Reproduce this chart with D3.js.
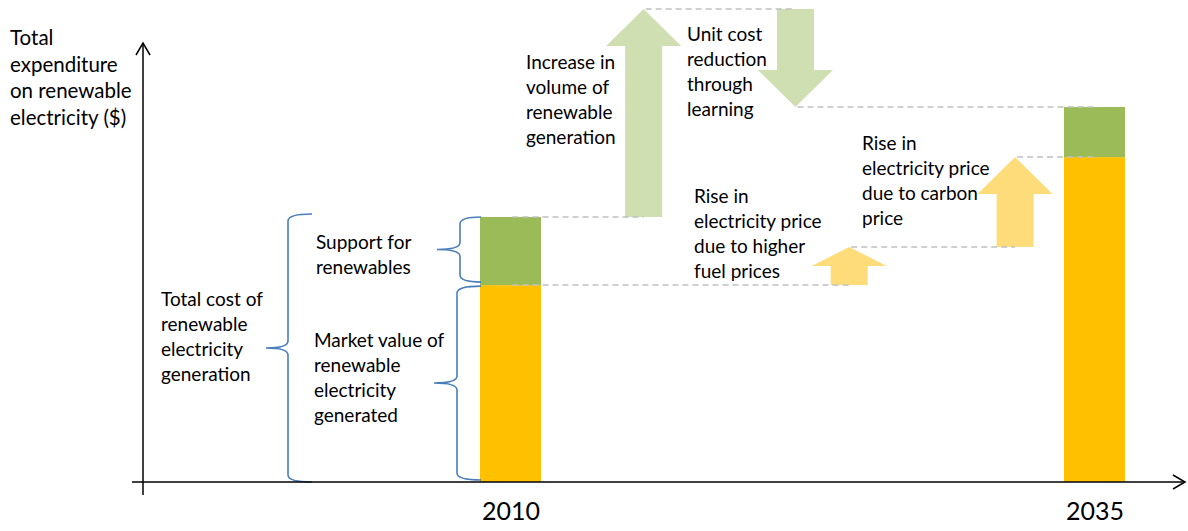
<!DOCTYPE html>
<html>
<head>
<meta charset="utf-8">
<script src="https://cdn.jsdelivr.net/npm/d3@7"></script>
<style>
  body { margin: 0; background: #fff; }
  text { font-family: Lato, "Open Sans", sans-serif; fill: #000; }
</style>
</head>
<body>
<div id="chart"></div>
<script>
// data (index, 2010 total cost = 100)
const years = [2010, 2035];
const marketValue = [74.3, 122.6];
const supportValue = [25.7, 18.9];

// waterfall steps between the two years
const stepYear = [2015.7, 2022.2, 2024.5, 2031.6];
const stepFrom = [100, 178.5, 74.3, 88.7];
const stepTo = [178.5, 141.5, 88.7, 122.6];
const stepKind = ["support", "support", "market", "market"];

// dashed connectors: [from year, to year, level]
const connectors = [
  [2010, 2015.7, 100],
  [2010, 2024.5, 74.3],
  [2015.7, 2022.2, 178.5],
  [2022.2, 2035, 141.5],
  [2024.5, 2031.6, 88.7],
  [2031.6, 2035, 122.6]
];

const yTitle = ["Total", "expenditure", "on renewable", "electricity ($)"];
const notes = [
  ["Increase in", "volume of", "renewable", "generation"],
  ["Unit cost", "reduction", "through", "learning"],
  ["Rise in", "electricity price", "due to higher", "fuel prices"],
  ["Rise in", "electricity price", "due to carbon", "price"],
  ["Support for", "renewables"],
  ["Market value of", "renewable", "electricity", "generated"],
  ["Total cost of", "renewable", "electricity", "generation"]
];
const notePos = [[526, 61], [687, 33], [694, 195], [862, 142], [316, 241], [314, 339], [161, 298]];

const width = 1188, height = 531;
const colors = {market: "#FFC000", support: "#9BBB59"};
const arrowColors = {market: "#FFDC7A", support: "#D0DFB2"};

const svg = d3.select("#chart").append("svg")
    .attr("width", width)
    .attr("height", height);

const x = d3.scaleLinear().domain([2010, 2035]).range([510.5, 1094.5]);
const y = d3.scaleLinear().domain([0, 100]).range([482, 217]);
const barW = 61;

// bars
const bars = years.map((yr, i) => ({yr, market: marketValue[i], support: supportValue[i]}));
svg.selectAll(".market").data(bars).join("rect")
    .attr("class", "market")
    .attr("x", d => x(d.yr) - barW / 2)
    .attr("width", barW)
    .attr("y", d => y(d.market))
    .attr("height", d => y(0) - y(d.market))
    .attr("fill", colors.market);
svg.selectAll(".support").data(bars).join("rect")
    .attr("class", "support")
    .attr("x", d => x(d.yr) - barW / 2)
    .attr("width", barW)
    .attr("y", d => y(d.market + d.support))
    .attr("height", d => y(d.market) - y(d.market + d.support))
    .attr("fill", colors.support);

// block arrows
function arrowPoints(xc, y0, y1) {
  const sw = 37, hw = 75;
  const head = Math.min(37, Math.abs(y1 - y0) / 2);
  const hb = y1 + (y0 > y1 ? head : -head);
  return [[xc - sw / 2, y0], [xc - sw / 2, hb], [xc - hw / 2, hb], [xc, y1],
          [xc + hw / 2, hb], [xc + sw / 2, hb], [xc + sw / 2, y0]];
}
const steps = stepYear.map((s, i) => ({s, from: stepFrom[i], to: stepTo[i], kind: stepKind[i]}));
svg.selectAll(".step").data(steps).join("polygon")
    .attr("class", "step")
    .attr("points", d => arrowPoints(x(d.s), y(d.from), y(d.to)).join(" "))
    .attr("fill", d => arrowColors[d.kind]);

// dashed connectors
svg.selectAll(".conn").data(connectors).join("line")
    .attr("class", "conn")
    .attr("x1", d => x(d[0]) + 2)
    .attr("x2", d => x(d[1]))
    .attr("y1", d => y(d[2]))
    .attr("y2", d => y(d[2]))
    .attr("stroke", "#C0C0C0")
    .attr("stroke-width", 1.5)
    .attr("stroke-dasharray", "6,4");

// braces
function brace(xs, top, bot, tipX, midX) {
  const mid = (top + bot) / 2, r = 7;
  return `M${tipX},${top} Q${xs},${top} ${xs},${top + r} L${xs},${mid - r} Q${xs},${mid} ${midX},${mid}` +
         ` Q${xs},${mid} ${xs},${mid + r} L${xs},${bot - r} Q${xs},${bot} ${tipX},${bot}`;
}
const braceData = [
  [288, y(100) - 3, y(0), 312, 266],
  [460, y(100), y(marketValue[0]) - 3, 481, 437],
  [457, y(marketValue[0]) + 1, y(0) - 2, 481, 434]
];
svg.selectAll(".brace").data(braceData).join("path")
    .attr("class", "brace")
    .attr("d", d => brace(...d))
    .attr("fill", "none")
    .attr("stroke", "#4A7EBB")
    .attr("stroke-width", 1.6);

// axes
const ax = svg.append("g").attr("stroke", "#000").attr("stroke-width", 1.5).attr("fill", "none");
ax.append("line").attr("x1", 132).attr("x2", 1185).attr("y1", y(0)).attr("y2", y(0));
ax.append("path").attr("d", `M1173,${y(0) - 7} L1185,${y(0)} L1173,${y(0) + 7}`);
ax.append("line").attr("x1", 143).attr("x2", 143).attr("y1", 495).attr("y2", 43);
ax.append("path").attr("d", "M136,55 L143,43 L150,55");

const xAxis = svg.append("g")
    .attr("transform", `translate(0, ${y(0)})`)
    .call(d3.axisBottom(x).tickValues(years).tickFormat(d3.format("d")).tickSize(0).tickPadding(20));
xAxis.select(".domain").remove();
xAxis.selectAll("text")
    .attr("font-size", 25)
    .attr("font-family", "Lato, sans-serif")
    .attr("fill", "#000");

// y axis title
svg.append("g").selectAll("text").data(yTitle).join("text")
    .attr("x", 10)
    .attr("y", (d, i) => 37 + i * 26.7)
    .attr("dominant-baseline", "central")
    .attr("font-size", 20.5)
    .text(d => d);

// annotations
notes.forEach((lines, k) => {
  svg.append("g").selectAll("text").data(lines).join("text")
      .attr("x", notePos[k][0])
      .attr("y", (d, i) => notePos[k][1] + i * 25)
      .attr("dominant-baseline", "central")
      .attr("font-size", 19)
      .text(d => d);
});
</script>
</body>
</html>
